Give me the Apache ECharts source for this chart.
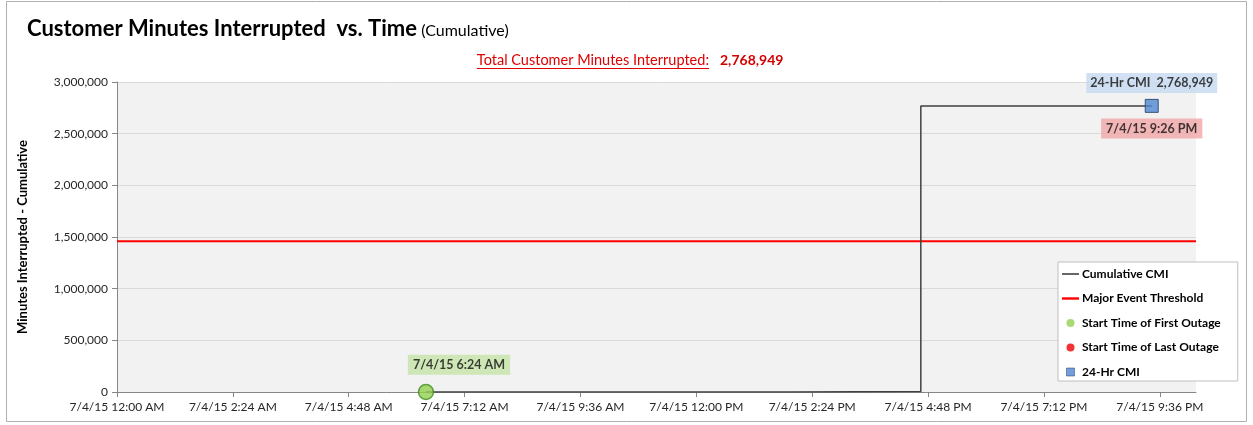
<!DOCTYPE html>
<html><head><meta charset="utf-8">
<script src="https://cdn.jsdelivr.net/npm/echarts@6/dist/echarts.min.js"></script>
<style>html,body{margin:0;padding:0;background:#fff}#c{width:1253px;height:425px}</style>
</head><body><div id="c"></div>
<script>
// ---- data (x = minutes after 7/4/15 12:00 AM) ----
const datePrefix = '7/4/15';
const xTickValues = [0, 144, 288, 432, 576, 720, 864, 1008, 1152, 1296];
const cumulativeX = [384, 840, 999, 1286];
const cumulativeY = [0, 6000, 2768949, 2768949];
const thresholdValue = 1460000;
const firstOutage = [384, 0];
const lastOutage = [];
const cmi24 = [1286, 2768949];
const totalCMI = 2768949;
const xMax = 1341;

const FONT = 'Lato, "Open Sans", sans-serif';
function fmtTime(m) {
  const h = Math.floor(m / 60), mm = Math.round(m % 60);
  const ap = h < 12 ? 'AM' : 'PM';
  const h12 = (h % 12) || 12;
  return datePrefix + ' ' + h12 + ':' + (mm < 10 ? '0' : '') + mm + ' ' + ap;
}
function fmtNum(v) { return v.toLocaleString('en-US'); }

const chart = echarts.init(document.getElementById('c'));

const cv = document.createElement('canvas').getContext('2d');
const subText = 'Total Customer Minutes Interrupted:';
cv.font = '14.5px ' + FONT;
const subW = cv.measureText(subText).width;
const subRight = 709;

const lineIcon = 'path://M0,0H17V1.6H0Z';
const lineIconThick = 'path://M0,0H17V2.4H0Z';
const squareIcon = 'path://M0,0H10V10H0Z';
const dotIcon = 'path://M5,0A5,5,0,1,1,4.99,0Z';

const option = {
  backgroundColor: '#fff',
  animation: false,
  textStyle: { fontFamily: FONT },
  title: {
    left: 22, top: 13,
    text: '{a|Customer Minutes Interrupted  vs. Time} {b|(Cumulative)}',
    textStyle: {
      rich: {
        a: { fontFamily: FONT, fontSize: 22, fontWeight: 'bold', color: '#000' },
        b: { fontFamily: FONT, fontSize: 16, fontWeight: 'normal', color: '#000', padding: [3, 0, 0, 0] }
      }
    }
  },
  graphic: [
    { type: 'rect', shape: { x: 6.5, y: 1.5, width: 1240, height: 420 }, style: { fill: null, stroke: '#b0b0b0', lineWidth: 1 }, silent: true, z: -10 },
    { type: 'text', x: subRight, y: 60, style: { text: subText, fill: '#e00000', font: '14.5px ' + FONT, textAlign: 'right', textVerticalAlign: 'middle' } },
    { type: 'line', shape: { x1: subRight - subW, y1: 68.5, x2: subRight, y2: 68.5 }, style: { stroke: '#e00000', lineWidth: 1 } },
    { type: 'text', x: 720, y: 60, style: { text: fmtNum(totalCMI), fill: '#d00000', font: 'bold 14px ' + FONT, textAlign: 'left', textVerticalAlign: 'middle' } }
  ],
  grid: { left: 117, right: 57, top: 82, bottom: 33, show: true, backgroundColor: '#f2f2f2', borderWidth: 0 },
  legend: {
    orient: 'vertical', left: 1058, top: 262, width: 180,
    backgroundColor: '#fff', borderColor: '#bfbfbf', borderWidth: 1,
    padding: [5, 17, 2, 4], itemGap: 10.5, itemWidth: 17, itemHeight: 8,
    symbolKeepAspect: true,
    textStyle: { fontFamily: FONT, fontSize: 12, fontWeight: 'bold', color: '#000', padding: [0, 0, 0, -2], height: 14, lineHeight: 14 },
    data: [
      { name: 'Cumulative CMI', icon: lineIcon },
      { name: 'Major Event Threshold', icon: lineIconThick },
      { name: 'Start Time of First Outage', icon: dotIcon, itemStyle: { borderWidth: 0 } },
      { name: 'Start Time of Last Outage', icon: dotIcon },
      { name: '24-Hr CMI', icon: squareIcon, itemStyle: { borderWidth: 0.6 } }
    ]
  },
  xAxis: {
    type: 'value', min: 0, max: xMax,
    axisLine: { show: true, onZero: false, lineStyle: { color: '#868686' } },
    axisTick: { show: true, customValues: xTickValues, length: 5, lineStyle: { color: '#868686' } },
    axisLabel: { customValues: xTickValues, formatter: v => fmtTime(v), color: '#262626', fontSize: 12, fontFamily: FONT, margin: 9 },
    splitLine: { show: false }
  },
  yAxis: {
    type: 'value', min: 0, max: 3000000, interval: 500000,
    name: 'Minutes Interrupted - Cumulative', nameLocation: 'middle', nameGap: 88, nameRotate: 90,
    nameTextStyle: { fontFamily: FONT, fontSize: 13, fontWeight: 'bold', color: '#000' },
    axisLine: { show: true, lineStyle: { color: '#868686' } },
    axisTick: { show: true, length: 5, lineStyle: { color: '#868686' } },
    axisLabel: { formatter: v => fmtNum(v), color: '#262626', fontSize: 12, fontFamily: FONT, margin: 9 },
    splitLine: { show: true, lineStyle: { color: '#d9d9d9' } }
  },
  series: [
    {
      name: 'Cumulative CMI', type: 'line', step: 'end', symbol: 'none',
      data: cumulativeX.map((x, i) => [x, cumulativeY[i]]),
      lineStyle: { color: '#404040', width: 1.5 }, itemStyle: { color: '#404040' }, z: 3
    },
    {
      name: 'Major Event Threshold', type: 'line', symbol: 'none',
      data: [[0, thresholdValue], [xMax, thresholdValue]],
      lineStyle: { color: '#ff0000', width: 2 }, itemStyle: { color: '#ff0000' }, z: 2
    },
    {
      name: 'Start Time of First Outage', type: 'scatter', symbol: 'circle', symbolSize: 15,
      data: [firstOutage],
      itemStyle: { color: '#92d050', borderColor: '#3f8f1f', borderWidth: 1.5 },
      label: { show: true, position: 'top', distance: 9, offset: [33, 0], formatter: p => fmtTime(p.value[0]),
        backgroundColor: '#c5e3a8', padding: [4, 5, 3, 5], color: '#111', fontSize: 12.5, fontWeight: 'bold', fontFamily: FONT }, z: 5
    },
    {
      name: 'Start Time of Last Outage', type: 'scatter', symbol: 'circle', symbolSize: 8,
      data: lastOutage, itemStyle: { color: '#ee0000' }
    },
    {
      name: '24-Hr CMI', type: 'scatter', symbol: 'rect', symbolSize: 13,
      data: [cmi24],
      itemStyle: { color: '#4f86d0', borderColor: '#1f3864', borderWidth: 1 },
      label: { show: true, position: 'top', distance: 6, formatter: p => '24-Hr CMI  ' + fmtNum(p.value[1]),
        backgroundColor: '#c6d9f0', padding: [4, 4, 3, 4], color: '#111', fontSize: 12.5, fontWeight: 'bold', fontFamily: FONT }, z: 5
    },
    {
      name: '24-Hr CMI time', type: 'scatter', symbol: 'circle', symbolSize: 13,
      data: [cmi24], silent: true, itemStyle: { color: 'rgba(0,0,0,0)' },
      label: { show: true, position: 'bottom', distance: 6, formatter: p => fmtTime(p.value[0]),
        backgroundColor: '#f2a6a6', padding: [4, 5, 3, 5], color: '#111', fontSize: 12.5, fontWeight: 'bold', fontFamily: FONT }, z: 4
    }
  ]
};
chart.setOption(option);
</script></body></html>
